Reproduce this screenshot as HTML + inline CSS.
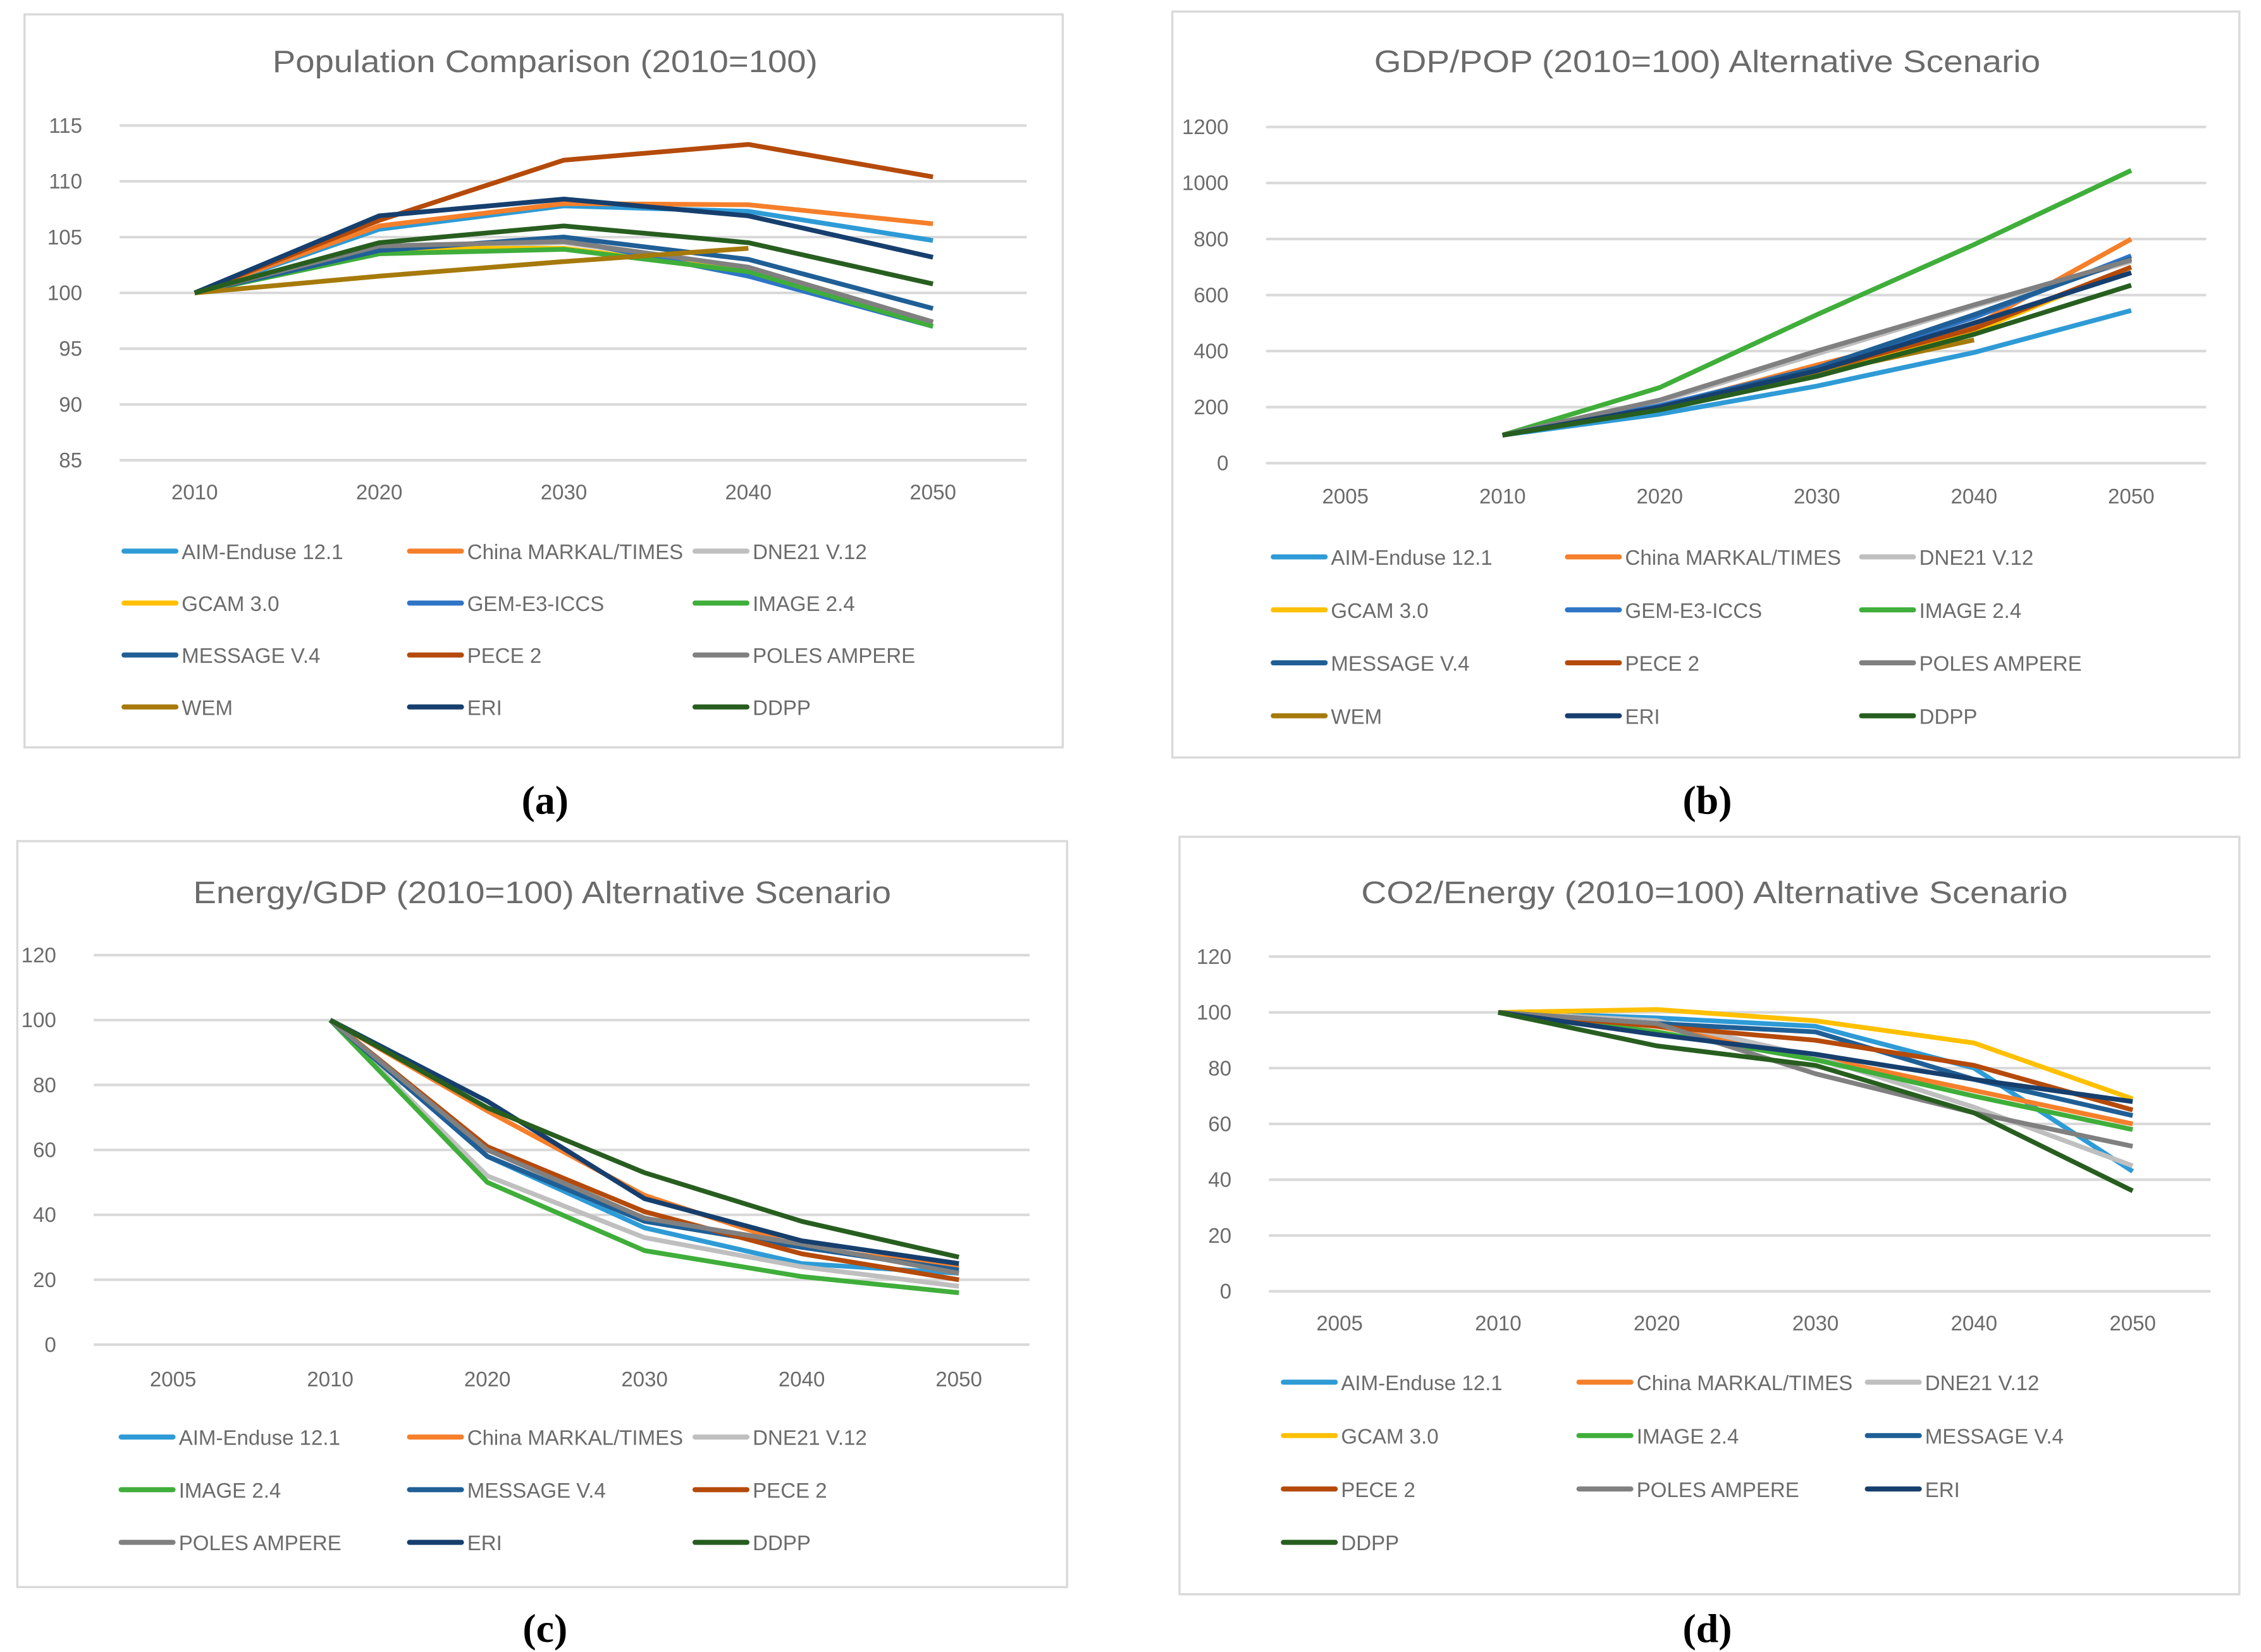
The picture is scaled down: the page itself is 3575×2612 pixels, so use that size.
<!DOCTYPE html>
<html><head><meta charset="utf-8"><style>
html,body{margin:0;padding:0;background:#fff;}
svg{display:block;}
text{font-family:"Liberation Sans",sans-serif;}
</style></head><body>
<svg id="fig" width="3575" height="2612" viewBox="0 0 1568 1145" preserveAspectRatio="none" xmlns="http://www.w3.org/2000/svg"></svg>
<script>
// ---- data ----
const colors = {"AIM-Enduse 12.1":"#2E9BD6","China MARKAL/TIMES":"#F57F2A","DNE21 V.12":"#BFBFBF","GCAM 3.0":"#FFC000","GEM-E3-ICCS":"#2F75C6","IMAGE 2.4":"#3FAE3A","MESSAGE V.4":"#1F5F96","PECE 2":"#B54A0A","POLES AMPERE":"#808080","WEM":"#A67A0B","ERI":"#163F6E","DDPP":"#275E1F"};
const yearsA = ["2010","2020","2030","2040","2050"];
const yearsB = ["2005","2010","2020","2030","2040","2050"];
const ticksA = [85,90,95,100,105,110,115];
const ticksB = [0,200,400,600,800,1000,1200];
const ticksC = [0,20,40,60,80,100,120];
const seriesNamesA = ["AIM-Enduse 12.1","China MARKAL/TIMES","DNE21 V.12","GCAM 3.0","GEM-E3-ICCS","IMAGE 2.4","MESSAGE V.4","PECE 2","POLES AMPERE","WEM","ERI","DDPP"];
const valuesA = [
 [100,105.7,107.8,107.3,104.7],
 [100,106,108,107.9,106.2],
 [100,104,104.5,102.3,97.3],
 [100,104,104,102,97],
 [100,104,104.8,101.5,97],
 [100,103.5,103.9,101.9,97],
 [100,103.8,105,103,98.6],
 [100,106.5,111.9,113.3,110.4],
 [100,104.2,104.6,102.3,97.4],
 [100,101.5,102.8,104,null],
 [100,106.9,108.4,106.9,103.2],
 [100,104.5,106,104.5,100.8]];
const seriesNamesB = seriesNamesA;
const valuesB = [
 [null,100,175,275,395,545],
 [null,100,200,350,490,800],
 [null,100,220,390,560,720],
 [null,100,200,330,470,700],
 [null,100,205,340,520,740],
 [null,100,270,530,780,1045],
 [null,100,200,340,530,730],
 [null,100,195,330,480,700],
 [null,100,225,400,565,725],
 [null,100,195,320,440,null],
 [null,100,200,330,500,680],
 [null,100,190,310,460,635]];
const seriesNamesC = ["AIM-Enduse 12.1","China MARKAL/TIMES","DNE21 V.12","IMAGE 2.4","MESSAGE V.4","PECE 2","POLES AMPERE","ERI","DDPP"];
const valuesC = [
 [null,100,58,36,25,22],
 [null,100,72,46,30,24],
 [null,100,52,33,24,18],
 [null,100,50,29,21,16],
 [null,100,58,38,30,23],
 [null,100,61,41,28,20],
 [null,100,60,39,31,22],
 [null,100,75,45,32,25],
 [null,100,73,53,38,27]];
const seriesNamesD = ["AIM-Enduse 12.1","China MARKAL/TIMES","DNE21 V.12","GCAM 3.0","IMAGE 2.4","MESSAGE V.4","PECE 2","POLES AMPERE","ERI","DDPP"];
const valuesD = [
 [null,100,98,95,80,43],
 [null,100,95,84,72,60],
 [null,100,97,84,66,45],
 [null,100,101,97,89,69],
 [null,100,93,83,70,58],
 [null,100,96,93,76,63],
 [null,100,95,90,81,65],
 [null,100,96,78,64,52],
 [null,100,92,85,76,68],
 [null,100,88,81,64,36]];

const NS="http://www.w3.org/2000/svg";
const svg=document.getElementById('fig');
function mk(tag,attrs,parent){const e=document.createElementNS(NS,tag);for(const k in attrs)e.setAttribute(k,attrs[k]);(parent||svg).appendChild(e);return e;}

function panel(cfg){
 const g=mk('g',{});
 
 
 const fr=mk('rect',{x:cfg.fx,y:cfg.fy,width:cfg.fw,height:cfg.fh,fill:'#fff',stroke:'#d9d9d9','stroke-width':1.5},g);
 
 
 const t=mk('text',{x:cfg.tx,y:cfg.ty,'font-size':21.5,fill:'#6b6b6b','text-anchor':'middle','textLength':cfg.tl,'lengthAdjust':'spacingAndGlyphs'},g);
 t.textContent=cfg.title;
 
 
 const ymin=cfg.ticks[0], ymax=cfg.ticks[cfg.ticks.length-1];
 const yS=v=>cfg.y0+(v-ymin)/(ymax-ymin)*(cfg.y1-cfg.y0);
 const xS=i=>cfg.xc[0]+i*(cfg.xc[1]-cfg.xc[0]);
 cfg.ticks.forEach(v=>{
  const l=mk('line',{x1:cfg.gx0,x2:cfg.gx1,y1:yS(v),y2:yS(v),stroke:'#d9d9d9','stroke-width':1.8},g);
  
  
  const tx=mk('text',{x:cfg.gx0-26,y:yS(v)+5,'font-size':14.5,fill:'#6b6b6b','text-anchor':'end'},g);
  tx.textContent=v;
  
  
 });
 cfg.cats.forEach((c,i)=>{
  const tx=mk('text',{x:xS(i),y:cfg.xly,'font-size':14.5,fill:'#6b6b6b','text-anchor':'middle'},g);
  tx.textContent=c;
  
  
 });
 cfg.names.forEach((n,si)=>{
  let d='';let pen=false;
  cfg.vals[si].forEach((v,i)=>{ if(v===null){pen=false;return;} d+=(pen?'L':'M')+xS(i).toFixed(1)+' '+yS(v).toFixed(1)+' '; pen=true;});
  const p=mk('path',{d:d,fill:'none',stroke:colors[n],'stroke-width':3.3,'stroke-linejoin':'round'},g);
  
  
  const col=si%3,row=Math.floor(si/3);
  const lx=cfg.lc[col], ly=cfg.ly0+row*cfg.ldy;
  const ll=mk('line',{x1:lx,x2:lx+36,y1:ly,y2:ly,stroke:colors[n],'stroke-width':3.5,'stroke-linecap':'round'},g);
  
  
  const lt=mk('text',{x:lx+40,y:ly+5.5,'font-size':14.5,fill:'#6b6b6b'},g);
  lt.textContent=n;
  
  
 });
 const cap=mk('text',{x:cfg.cx,y:cfg.cy,'text-anchor':'middle',style:'font-family:"Liberation Serif",serif;font-weight:bold;font-size:28px;fill:#000'},g);
 cap.textContent=cfg.cap;
 
 
 return g;
}

panel({id:'panel-a-population',fx:17,fy:10,fw:720,fh:508,title:'Population Comparison (2010=100)',tx:378,ty:50,tl:378,
 ticks:ticksA,y0:319,y1:87,gx0:83,gx1:712,cats:yearsA,xc:[135,263],xly:346,names:seriesNamesA,vals:valuesA,
 lc:[86,284,482],ly0:382,ldy:36,cap:'(a)',cx:378,cy:564});
panel({id:'panel-b-gdp-pop',fx:813,fy:8,fw:740,fh:517,title:'GDP/POP (2010=100) Alternative Scenario',tx:1184,ty:50,tl:462,
 ticks:ticksB,y0:321,y1:88,gx0:878,gx1:1530,cats:yearsB,xc:[933,1042],xly:349,names:seriesNamesB,vals:valuesB,
 lc:[883,1087,1291],ly0:386,ldy:36.7,cap:'(b)',cx:1184,cy:564});
panel({id:'panel-c-energy-gdp',fx:12,fy:583,fw:728,fh:517,title:'Energy/GDP (2010=100) Alternative Scenario',tx:376,ty:626,tl:484,
 ticks:ticksC,y0:932,y1:662,gx0:65,gx1:714,cats:yearsB,xc:[120,229],xly:961,names:seriesNamesC,vals:valuesC,
 lc:[84,284,482],ly0:996,ldy:36.5,cap:'(c)',cx:378,cy:1138});
panel({id:'panel-d-co2-energy',fx:818,fy:580,fw:735,fh:525,title:'CO2/Energy (2010=100) Alternative Scenario',tx:1189,ty:626,tl:490,
 ticks:ticksC,y0:895,y1:663,gx0:880,gx1:1533,cats:yearsB,xc:[929,1039],xly:922,names:seriesNamesD,vals:valuesD,
 lc:[890,1095,1295],ly0:958,ldy:37,cap:'(d)',cx:1184,cy:1138});
</script>
</body></html>
